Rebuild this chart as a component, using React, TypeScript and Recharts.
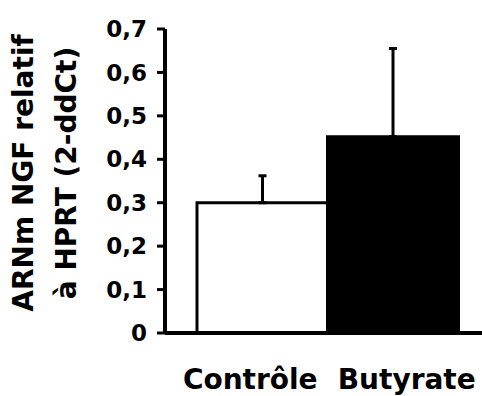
import React from 'react';
import { BarChart, Bar, XAxis, YAxis, Cell, ErrorBar, Label } from 'recharts';

const categories = ['Contrôle', 'Butyrate'];
const means = [0.3, 0.452];
const sem = [0.062, 0.203];
const barColors = ['#ffffff', '#000000'];
const yTicks = [0, 0.1, 0.2, 0.3, 0.4, 0.5, 0.6, 0.7];
const yLabelLines = ['ARNm NGF relatif', 'à HPRT (2-ddCt)'];

const data = categories.map((name, i) => ({
  name,
  value: means[i],
  err: [0, sem[i]],
}));

const FONT = '"DejaVu Sans", sans-serif';

// labels sit a bit off the bar centres in the original
const labelShift = [-12, 14];

const CategoryTick = (props: any) => {
  const { x, y, payload, index } = props;
  return (
    <text
      x={x + (labelShift[index] || 0)}
      y={y}
      dy={56}
      textAnchor="middle"
      fontFamily={FONT}
      fontWeight="bold"
      fontSize={28}
      fill="#000"
    >
      {payload.value}
    </text>
  );
};

const YTitle = (props: any) => {
  const { viewBox } = props;
  const cy = viewBox.y + viewBox.height / 2 - 8;
  const xs = [33, 76];
  return (
    <g>
      {yLabelLines.map((line, i) => (
        <text
          key={line}
          x={xs[i]}
          y={cy}
          transform={`rotate(-90, ${xs[i]}, ${cy})`}
          textAnchor="middle"
          fontFamily={FONT}
          fontWeight="bold"
          fontSize={28}
          fill="#000"
        >
          {line}
        </text>
      ))}
    </g>
  );
};

export default function App() {
  return (
    <div style={{ position: 'absolute', left: 0, top: 0, width: 482, height: 396, background: '#fff' }}>
      <BarChart
        width={482}
        height={396}
        data={data}
        margin={{ top: 29, right: 0, bottom: 0, left: 0 }}
        barCategoryGap={0}
        barGap={0}
      >
        <XAxis
          dataKey="name"
          height={63}
          padding={{ left: 32, right: 24 }}
          axisLine={{ stroke: '#000', strokeWidth: 4 }}
          tickLine={false}
          tickSize={0}
          tickMargin={0}
          tick={<CategoryTick />}
          interval={0}
        />
        <YAxis
          width={165}
          domain={[0, 0.7]}
          ticks={yTicks}
          allowDataOverflow
          axisLine={{ stroke: '#000', strokeWidth: 4 }}
          tickLine={{ stroke: '#000', strokeWidth: 3 }}
          tickSize={8}
          tickMargin={10}
          tickFormatter={(v: number) => (v === 0 ? '0' : v.toFixed(1).replace('.', ','))}
          tick={{ fill: '#000', fontSize: 23, fontWeight: 'bold', fontFamily: FONT }}
        >
          <Label content={<YTitle />} />
        </YAxis>
        <Bar dataKey="value" stroke="#000" strokeWidth={3} isAnimationActive={false}>
          {data.map((d, i) => (
            <Cell key={d.name} fill={barColors[i]} />
          ))}
          <ErrorBar dataKey="err" direction="y" width={4} stroke="#000" strokeWidth={3} isAnimationActive={false} />
        </Bar>
      </BarChart>
    </div>
  );
}
